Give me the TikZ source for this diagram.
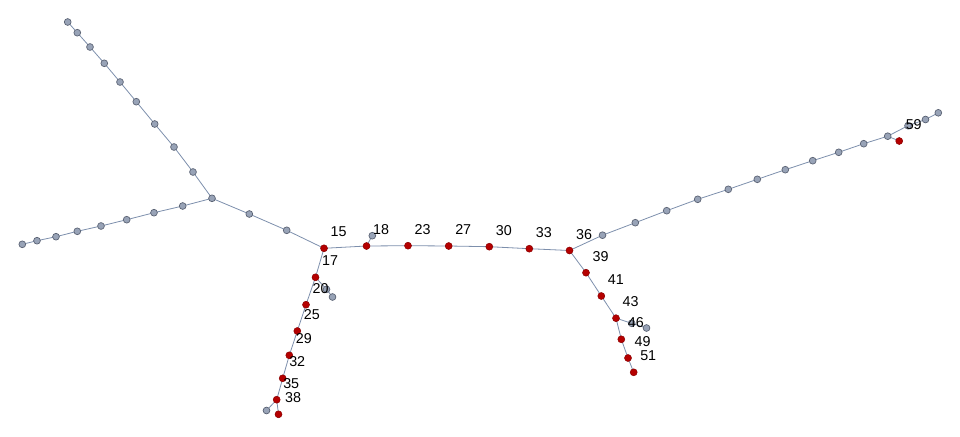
\documentclass[tikz,border=0pt]{standalone}
\usepackage{fontspec}
\setmainfont{Liberation Sans}
\usetikzlibrary{calc,backgrounds}
\definecolor{edgec}{HTML}{7D8FAC}
\definecolor{grayfill}{HTML}{98A3B7}
\definecolor{graydraw}{HTML}{5C6475}
\definecolor{redfill}{HTML}{B50000}
\definecolor{reddraw}{HTML}{8A0000}
\tikzset{
  gv/.style={circle,fill=grayfill,draw=graydraw,line width=0.7pt,inner sep=0pt,minimum size=6.8pt},
  rv/.style={circle,fill=redfill,draw=reddraw,line width=0.5pt,inner sep=0pt,minimum size=7pt},
  ed/.style={draw=edgec,line width=0.8pt},
  lab/.style={inner sep=0pt,font=\fontsize{14.3}{16}\selectfont,text=black}
}
\begin{document}
\begin{tikzpicture}[x=1pt,y=-1pt]
\useasboundingbox (0,0) rectangle (960,436);
% top-left branch
\node[gv] (t1) at (67.7,22) {};
\node[gv] (t2) at (77.3,32.7) {};
\node[gv] (t3) at (90,47) {};
\node[gv] (t4) at (104.3,63.3) {};
\node[gv] (t5) at (120,82) {};
\node[gv] (t6) at (136.3,101.7) {};
\node[gv] (t7) at (154.7,124) {};
\node[gv] (t8) at (174,147) {};
\node[gv] (t9) at (193,172) {};
\node[gv] (hub) at (212,198.3) {};
% left branch
\node[gv] (l1) at (22.3,244.3) {};
\node[gv] (l2) at (37,240.7) {};
\node[gv] (l3) at (56,236.7) {};
\node[gv] (l4) at (77.3,231.3) {};
\node[gv] (l5) at (101,226) {};
\node[gv] (l6) at (126.7,219.7) {};
\node[gv] (l7) at (154,212.7) {};
\node[gv] (l8) at (182.7,206) {};
\node[gv] (m1) at (249.3,214) {};
\node[gv] (m2) at (286.7,230.3) {};
% red path and side nodes
\node[rv] (n15) at (324,248.3) {};
\node[rv] (n17) at (315.5,277.3) {};
\node[rv] (n18) at (366.5,246) {};
\node[gv] (g18) at (372.3,235.7) {};
\node[rv] (n23) at (408,245.7) {};
\node[rv] (n27) at (448.7,246) {};
\node[rv] (n30) at (489.3,246.7) {};
\node[rv] (n33) at (529.3,248.7) {};
\node[rv] (n36) at (569.5,250.5) {};
\node[gv] (ga) at (326.5,289.3) {};
\node[gv] (gb) at (332.5,297) {};
\node[rv] (n20) at (306,304.7) {};
\node[rv] (n25) at (297.3,331) {};
\node[rv] (n29) at (289.3,355.3) {};
\node[rv] (n32) at (282.7,378.3) {};
\node[rv] (n35) at (276.7,399.7) {};
\node[gv] (gc) at (266.5,410.5) {};
\node[rv] (n38) at (278.5,414.3) {};
% right branch
\node[gv] (r1) at (602.5,235.2) {};
\node[gv] (r2) at (635.3,222.7) {};
\node[gv] (r3) at (666.7,210.7) {};
\node[gv] (r4) at (697.7,199.3) {};
\node[gv] (r5) at (728.3,189.3) {};
\node[gv] (r6) at (757.3,179.3) {};
\node[gv] (r7) at (785.3,169.7) {};
\node[gv] (r8) at (812.7,160.7) {};
\node[gv] (r9) at (838.7,152.3) {};
\node[gv] (r10) at (863.7,143.7) {};
\node[gv] (r11) at (887.7,136.2) {};
\node[gv] (r12) at (908,125.7) {};
\node[gv] (r13) at (925.5,119.5) {};
\node[gv] (r14) at (938.3,112.8) {};
\node[rv] (n59) at (899.2,141) {};
\node[rv] (n39) at (586,272.7) {};
\node[rv] (n41) at (601.3,296) {};
\node[rv] (n43) at (616,318.2) {};
\node[gv] (gd) at (631.7,323.3) {};
\node[gv] (ge) at (646.5,328) {};
\node[rv] (n46) at (621.3,339.3) {};
\node[rv] (n49) at (628,358) {};
\node[rv] (n51) at (633.7,372.3) {};
% edges (behind the vertices)
\begin{pgfonlayer}{background}
\path[ed] (t1.center)--(t2.center)--(t3.center)--(t4.center)--(t5.center)--(t6.center)--(t7.center)--(t8.center)--(t9.center)--(hub.center);
\path[ed] (l1.center)--(l2.center)--(l3.center)--(l4.center)--(l5.center)--(l6.center)--(l7.center)--(l8.center)--(hub.center);
\path[ed] (hub.center)--(m1.center)--(m2.center)--(n15.center);
\path[ed] (n15.center)--(n17.center);
\path[ed] (n15.center)--(n18.center)--(n23.center)--(n27.center)--(n30.center)--(n33.center)--(n36.center);
\path[ed] (n18.center)--(g18.center);
\path[ed] (n17.center)--(ga.center)--(gb.center);
\path[ed] (n17.center)--(n20.center)--(n25.center)--(n29.center)--(n32.center)--(n35.center)--(gc.center);
\path[ed] (n35.center)--(n38.center);
\path[ed] (n36.center)--(r1.center)--(r2.center)--(r3.center)--(r4.center)--(r5.center)--(r6.center)--(r7.center)--(r8.center)--(r9.center)--(r10.center)--(r11.center)--(r12.center)--(r13.center)--(r14.center);
\path[ed] (r11.center)--(n59.center);
\path[ed] (n36.center)--(n39.center)--(n41.center)--(n43.center)--(gd.center)--(ge.center);
\path[ed] (n43.center)--(n46.center)--(n49.center)--(n51.center);
\end{pgfonlayer}
% labels
\foreach \n in {15,17,18,23,27,30,33,36,20,25,29,32,35,38,39,41,43,46,49,51,59}{
  \node[lab] (lab\n) at ($(n\n)+(14.5,-16.3)$) {\n};
}
\end{tikzpicture}
\end{document}
